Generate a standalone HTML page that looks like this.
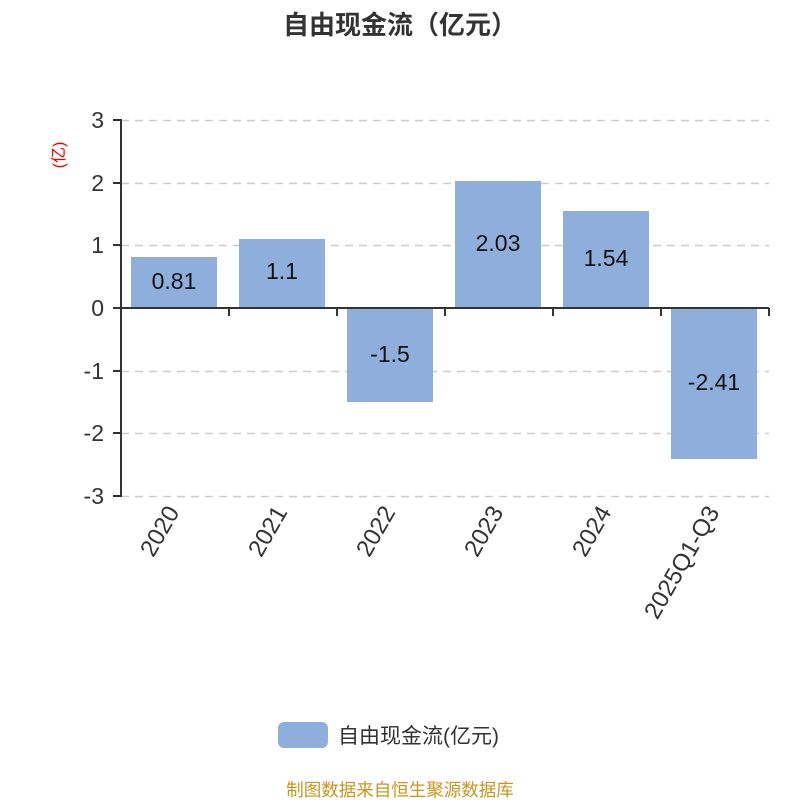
<!DOCTYPE html>
<html><head><meta charset="utf-8"><style>
body{margin:0;background:#fff}
svg text{font-family:"Liberation Sans","Noto Sans CJK SC",sans-serif}
</style></head><body>
<svg width="800" height="800" viewBox="0 0 800 800" xmlns="http://www.w3.org/2000/svg">
<text x="400" y="34" text-anchor="middle" font-size="26" font-weight="bold" fill="#333">自由现金流（亿元）</text>
<g stroke="#ccc" stroke-width="1.5" stroke-dasharray="8,6">
<line x1="121" y1="120.5" x2="769" y2="120.5"/><line x1="121" y1="183.5" x2="769" y2="183.5"/><line x1="121" y1="245.5" x2="769" y2="245.5"/>
<line x1="121" y1="371.5" x2="769" y2="371.5"/><line x1="121" y1="433.5" x2="769" y2="433.5"/><line x1="121" y1="496.5" x2="769" y2="496.5"/>
</g>
<g fill="#8eaedb">
<rect x="131" y="257" width="86" height="51"/><rect x="239" y="239" width="86" height="69"/><rect x="347" y="308" width="86" height="94"/>
<rect x="455" y="181" width="86" height="127"/><rect x="563" y="211" width="86" height="97"/><rect x="671" y="308" width="86" height="151"/>
</g>
<g stroke="#333" stroke-width="2" fill="none">
<line x1="121" y1="119" x2="121" y2="497"/>
<line x1="113" y1="120" x2="121" y2="120"/><line x1="113" y1="183" x2="121" y2="183"/><line x1="113" y1="245" x2="121" y2="245"/><line x1="113" y1="308" x2="121" y2="308"/><line x1="113" y1="371" x2="121" y2="371"/><line x1="113" y1="433" x2="121" y2="433"/><line x1="113" y1="496" x2="121" y2="496"/>
<line x1="121" y1="308" x2="769" y2="308"/>
<line x1="229" y1="308" x2="229" y2="316"/><line x1="337" y1="308" x2="337" y2="316"/><line x1="445" y1="308" x2="445" y2="316"/><line x1="553" y1="308" x2="553" y2="316"/><line x1="661" y1="308" x2="661" y2="316"/><line x1="769" y1="308" x2="769" y2="316"/>
</g>
<g font-size="23" fill="#333" text-anchor="end">
<text x="104" y="128">3</text><text x="104" y="191">2</text><text x="104" y="253">1</text><text x="104" y="316">0</text><text x="104" y="379">-1</text><text x="104" y="441">-2</text><text x="104" y="504">-3</text>
</g>
<text transform="translate(64,155) rotate(-90)" text-anchor="middle" font-size="16" fill="#e00">(亿)</text>
<g font-size="23" fill="#111" text-anchor="middle">
<text x="174" y="289">0.81</text><text x="282" y="279">1.1</text><text x="390" y="362">-1.5</text>
<text x="498" y="251">2.03</text><text x="606" y="266">1.54</text><text x="714" y="390">-2.41</text>
</g>
<g font-size="24" fill="#333" text-anchor="end">
<text transform="translate(180,512) rotate(-60)">2020</text>
<text transform="translate(288,512) rotate(-60)">2021</text>
<text transform="translate(396,512) rotate(-60)">2022</text>
<text transform="translate(504,512) rotate(-60)">2023</text>
<text transform="translate(612,512) rotate(-60)">2024</text>
<text transform="translate(720,512) rotate(-60)">2025Q1-Q3</text>
</g>
<rect x="278" y="722" width="50" height="26" rx="6" fill="#8eaedb"/>
<text x="338" y="743" font-size="21" fill="#333">自由现金流(亿元)</text>
<text x="400" y="796" text-anchor="middle" font-size="17.5" fill="#c8961e">制图数据来自恒生聚源数据库</text>
</svg>
</body></html>
